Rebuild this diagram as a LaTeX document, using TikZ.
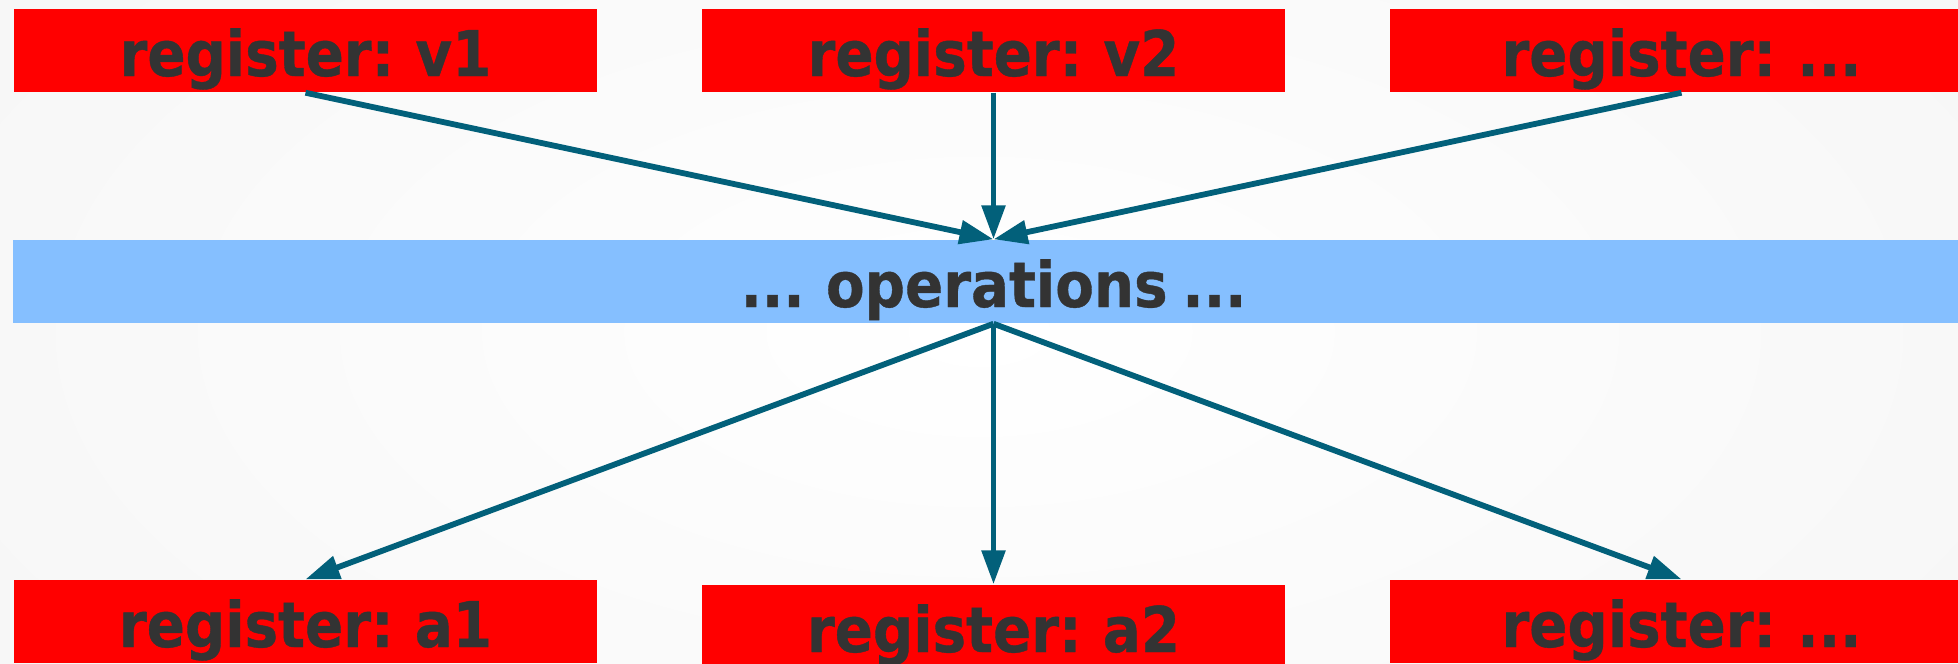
\documentclass[tikz,border=0pt]{standalone}
\usepackage{fontspec}
\newfontfamily\boxfont[FakeStretch=0.895, FakeBold=0.6, WordSpace=0.75]{DejaVu Sans}
\usetikzlibrary{arrows.meta}
\definecolor{regred}{RGB}{255,0,0}
\definecolor{opblue}{RGB}{133,191,255}
\definecolor{flow}{RGB}{2,96,122}
\definecolor{ink}{RGB}{51,51,51}
\definecolor{bgedge}{RGB}{246,246,246}

\tikzset{
  bar/.style={fill=#1, draw=none, inner sep=0pt, minimum height=0.83cm,
    text height=0.55cm, text depth=0.04cm, text=ink,
    font=\boxfont\bfseries\fontsize{17.9pt}{20pt}\selectfont},
  regbox/.style={bar=regred, minimum width=5.83cm},
  opbar/.style={bar=opblue, minimum width=19.59cm},
  flowline/.style={draw=flow, line width=0.058cm,
    -{Triangle[length=0.34cm, width=0.23cm]}},
}

\begin{document}
\begin{tikzpicture}[x=0.01cm, y=-0.01cm]
  \useasboundingbox (0,0) rectangle (1958,663);
  \clip (0,0) rectangle (1958,663);
  % soft backdrop
  \shade[inner color=white, outer color=bgedge] (-300,-300) rectangle (2258,963);

  % input registers
  \node[regbox] (v1) at (305.5,50.5) {register: v1};
  \node[regbox] (v2) at (993.5,50.5) {register: v2};
  \node[regbox] (vn) at (1681.5,50.5) {register: ...};

  % operations band
  \node[opbar] (ops) at (993.5,281.5) {... operations ...};

  % output registers
  \node[regbox] (a1) at (305.5,621.5) {register: a1};
  \node[regbox] (a2) at (993.5,626.5) {register: a2};
  \node[regbox] (an) at (1681.5,621.5) {register: ...};

  % data flow
  \draw[flowline] (v1.south) -- (ops.north);
  \draw[flowline] (v2.south) -- (ops.north);
  \draw[flowline] (vn.south) -- (ops.north);
  \draw[flowline] (ops.south) -- (a1.north);
  \draw[flowline] (ops.south) -- (a2.north);
  \draw[flowline] (ops.south) -- (an.north);
\end{tikzpicture}
\end{document}
